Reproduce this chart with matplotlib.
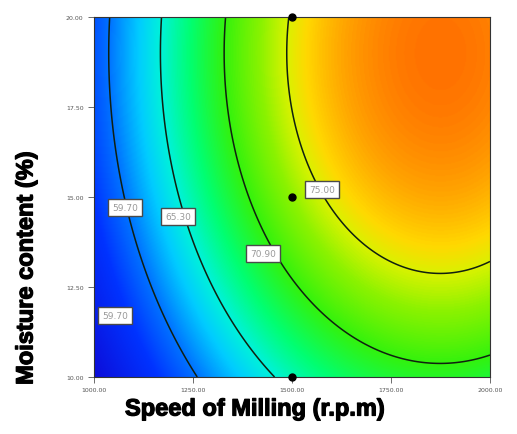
import numpy as np
import matplotlib
matplotlib.use("Agg")
import matplotlib.pyplot as plt
import matplotlib.patheffects as pe
from matplotlib.colors import LinearSegmentedColormap, Normalize

# Factor ranges
speed_range = [1000.0, 2000.0]      # Speed of Milling (r.p.m)
moisture_range = [10.0, 20.0]       # Moisture content (%)
speed_ticks = [1000.0, 1250.0, 1500.0, 1750.0, 2000.0]
moisture_ticks = [10.0, 12.5, 15.0, 17.5, 20.0]

# Quadratic response model in coded units (A = speed, B = moisture)
b0 = 73.5
bA = 10.4
bB = 4.45
bAA = -6.95
bBB = -2.78
bAB = 0.0

# Contour levels of the response
contour_levels = [59.7, 65.3, 70.9, 75.0]

# Contour label placement (speed, moisture) and the level each one names
label_speed = [1078, 1212, 1427, 1576, 1053]
label_moist = [14.72, 14.47, 13.42, 15.22, 11.72]
label_level = [0, 1, 2, 3, 0]

# Design points
design_speed = [1500, 1500, 1500]
design_moist = [10.0, 15.0, 20.0]


def coded(v, lo, hi):
    return (v - (lo + hi) / 2) / ((hi - lo) / 2)


sp = np.linspace(speed_range[0], speed_range[1], 400)
mo = np.linspace(moisture_range[0], moisture_range[1], 400)
S, M = np.meshgrid(sp, mo)
A = coded(S, *speed_range)
B = coded(M, *moisture_range)
Z = b0 + bA * A + bB * B + bAA * A ** 2 + bBB * B ** 2 + bAB * A * B

zmin, zmax = Z.min(), Z.max()


def pos(v):
    return (v - zmin) / (zmax - zmin)


anchors = [
    (zmin, (0.05, 0.05, 0.85)),
    (56.0, (0.0, 0.2, 1.0)),
    (59.7, (0.0, 0.45, 1.0)),
    (63.0, (0.0, 0.8, 1.0)),
    (65.3, (0.0, 0.95, 0.85)),
    (68.0, (0.0, 1.0, 0.45)),
    (70.9, (0.2, 0.95, 0.05)),
    (73.5, (0.55, 0.95, 0.0)),
    (75.0, (0.85, 0.95, 0.0)),
    (76.0, (1.0, 0.85, 0.0)),
    (77.5, (1.0, 0.65, 0.0)),
    (zmax, (1.0, 0.45, 0.0)),
]
cmap = LinearSegmentedColormap.from_list(
    "de", [(min(max(pos(v), 0), 1), c) for v, c in anchors])

fig = plt.figure(figsize=(5.17, 4.35), dpi=100)
ax = fig.add_axes([94 / 517, 1 - 378 / 435, 396 / 517, 360 / 435])

ax.imshow(Z, origin="lower", aspect="auto", cmap=cmap,
          norm=Normalize(zmin, zmax),
          extent=[speed_range[0], speed_range[1], moisture_range[0], moisture_range[1]],
          interpolation="bilinear")
ax.contour(S, M, Z, levels=contour_levels, colors="#102010", linewidths=1.1)

for xs, ys, li in zip(label_speed, label_moist, label_level):
    ax.text(xs, ys, f"{contour_levels[li]:.2f}", fontsize=6.5, color="#9a9a9a",
            ha="center", va="center", zorder=5,
            bbox=dict(boxstyle="square,pad=0.45", fc="white", ec="#4a4a4a", lw=1.0))

ax.plot(design_speed, design_moist, "o", color="black", ms=5, zorder=6, clip_on=False)

ax.set_xlim(*speed_range)
ax.set_ylim(*moisture_range)
ax.set_xticks(speed_ticks)
ax.set_yticks(moisture_ticks)
ax.set_xticklabels([f"{v:.2f}" for v in speed_ticks])
ax.set_yticklabels([f"{v:.2f}" for v in moisture_ticks])
ax.tick_params(labelsize=4.5, labelcolor="#555555", length=4, width=0.6,
               direction="out", color="#555555")
for s in ax.spines.values():
    s.set_linewidth(0.8)
    s.set_color("#333333")

heavy = [pe.withStroke(linewidth=0.9, foreground="black")]
fig.text(255 / 517, 1 - 410 / 435, "Speed of Milling (r.p.m)", fontsize=17,
         fontweight="bold", family="Liberation Sans", ha="center", va="center",
         path_effects=heavy)
fig.text(26 / 517, 1 - 269 / 435, "Moisture content (%)", fontsize=17,
         fontweight="bold", family="Liberation Sans", ha="center", va="center",
         rotation=90, path_effects=heavy)

fig.savefig("out.png", dpi=100)
